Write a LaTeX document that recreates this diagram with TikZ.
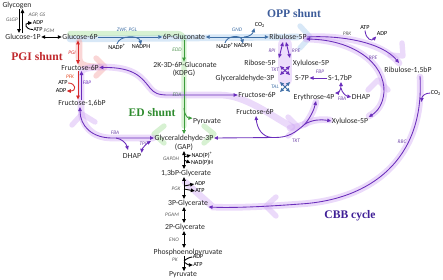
\documentclass[tikz,border=0pt]{standalone}
\usepackage{fontspec}
\setmainfont{Carlito}
\newfontfamily\serifb{Liberation Serif}
\usetikzlibrary{arrows.meta}
\pgfdeclarelayer{bg}
\pgfsetlayers{bg,main}
\definecolor{dpurp}{HTML}{6A2DBB}
\definecolor{lpurp}{HTML}{D2ACF4}
\definecolor{dblue}{HTML}{3F6FA6}
\definecolor{lblue}{HTML}{A8CBEE}
\definecolor{dgreen}{HTML}{3C9B3C}
\definecolor{lgreen}{HTML}{A6E09C}
\definecolor{dred}{HTML}{D62A2A}
\definecolor{lred}{HTML}{F4A3A3}
\definecolor{enzgray}{HTML}{5A5A5A}
\definecolor{oppc}{HTML}{3D5C9A}
\definecolor{pgic}{HTML}{C0282D}
\definecolor{edc}{HTML}{2E8B2E}
\definecolor{cbbc}{HTML}{3F1F96}
\tikzset{
 >={Triangle[length=3pt,width=2.6pt]},
 met/.style={font=\fontsize{5.8}{6}\selectfont, inner sep=0.3pt, text=black!85},
 cof/.style={font=\fontsize{4.6}{5}\selectfont, inner sep=0.2pt},
 enz/.style={font=\fontsize{4}{4.5}\selectfont\itshape, inner sep=0.2pt, text=enzgray},
 shunt/.style={font=\fontsize{8.7}{9}\serifb\bfseries, inner sep=0pt},
 ln/.style={line width=0.65pt},
 band/.style={line width=5pt, opacity=0.45, line cap=round},
 chevr/.style={line width=4pt, opacity=0.45, line cap=round, line join=round},
}
\begin{document}
\begin{tikzpicture}[x=0.75pt,y=-0.75pt]
\useasboundingbox (0,0) rectangle (443,279);
\coordinate (col) at (184,0);
% ---------- metabolites
\node[met] (glycogen) at (17,5) {Glycogen};
\node[met] (g1p) at (23,37) {Glucose-1P};
\node[met] (g6p) at (80,37) {Glucose-6P};
\node[met] (f6p) at (80,67.5) {Fructose-6P};
\node[met] (fbp) at (82,103) {Fructose-1,6bP};
\node[met] (dhapa) at (132,156) {DHAP};
\node[met] (gap) at (184,138) {Glyceraldehyde-3P};
\node[met] (gapb) at (184,147) {(GAP)};
\node[met] (bpg) at (186,173) {1,3bP-Glycerate};
\node[met] (pga) at (188,203) {3P-Glycerate};
\node[met] (pgb) at (185,227) {2P-Glycerate};
\node[met] (pep) at (188,252) {Phosphoenolpyruvate};
\node[met] (pyrb) at (183,275) {Pyruvate};
\node[met] (gln) at (184,37) {6P-Gluconate};
\node[met] (kdpg) at (185,65) {2K-3D-6P-Gluconate};
\node[met] (kdpgb) at (184,73) {(KDPG)};
\node[met] (pyra) at (207,122) {Pyruvate};
\node[met] (ru5p) at (288,37) {Ribulose-5P};
\node[met] (r5p) at (260,63) {Ribose-5P};
\node[met] (xu5pa) at (311,63) {Xylulose-5P};
\node[met] (gapc) at (245,78) {Glyceraldehyde-3P};
\node[met] (s7p) at (302,78) {S-7P};
\node[met] (s17) at (340,78) {S-1,7bP};
\node[met] (f6pb) at (257,95) {Fructose-6P};
\node[met] (e4p) at (314,97) {Erythrose-4P};
\node[met] (dhapb) at (361,97) {DHAP};
\node[met] (f6pc) at (255,112) {Fructose-6P};
\node[met] (xu5pb) at (350,121) {Xylulose-5P};
\node[met] (rubp) at (408,70) {Ribulose-1,5bP};
% ---------- shunt labels
\node[shunt,text=pgic] (pgis) at (37,57) {PGI shunt};
\node[shunt,text=oppc] (opps) at (294,14) {OPP shunt};
\node[shunt,text=edc] (eds) at (152,113) {ED shunt};
\node[shunt,text=cbbc] (cbb) at (350,216) {CBB cycle};
% ---------- cofactors
\node[cof] (adpa) at (38,23) {ADP};
\node[cof] (atpa) at (38,29.5) {ATP};
\node[cof] (nadpa) at (117,47) {NADP\textsuperscript{+}};
\node[cof] (nadpha) at (141,47) {NADPH};
\node[cof] (co2a) at (260,25) {CO\textsubscript{2}};
\node[cof] (nadpb) at (225,46) {NADP\textsuperscript{+}};
\node[cof] (nadphb) at (243,46) {NADPH};
\node[cof] (atpb) at (63,83) {ATP};
\node[cof] (adpb) at (61,91) {ADP};
\node[cof] (nadp) at (202,155) {NAD(P)\textsuperscript{+}};
\node[cof] (nadph) at (202,163) {NAD(P)H};
\node[cof] (adpc) at (200,184) {ADP};
\node[cof] (atpc) at (200,191) {ATP};
\node[cof] (adpd) at (198,257) {ADP};
\node[cof] (atpd) at (198,265) {ATP};
\node[cof] (atpe) at (365,28) {ATP};
\node[cof] (adpe) at (382,34) {ADP};
\node[cof] (co2b) at (436,93) {CO\textsubscript{2}};
% ---------- enzyme labels
\node[enz] (e1) at (12,20) {GLGP};
\node[enz] (e2) at (37,15) {AGP, GS};
\node[enz] (e3) at (49,31) {PGM};
\node[enz,text=dblue] (e4) at (127,30) {ZWF, PGL};
\node[enz,text=dblue] (e5) at (237,30) {GND};
\node[enz,text=dred] (e6) at (72,53) {PGI};
\node[enz,text=dred!70!orange] (e7) at (70,77) {PFK};
\node[enz,text=dpurp] (e8) at (87,83) {FBP};
\node[enz,text=dpurp!70!gray] (e9) at (115,133) {FBA};
\node[enz,text=dpurp!70!gray] (e10) at (143,144) {TPI};
\node[enz,text=dgreen!70!gray] (e11) at (177,50) {EDD};
\node[enz,text=dgreen!70!gray] (e12) at (177,95) {EDA};
\node[enz] (e13) at (171,159) {GAPDH};
\node[enz] (e14) at (176,189) {PGK};
\node[enz] (e15) at (172,215) {PGAM};
\node[enz] (e16) at (174,240) {ENO};
\node[enz] (e17) at (175,260) {PK};
\node[enz,text=dpurp!70!gray] (e18) at (272,51) {RPI};
\node[enz,text=dpurp!70!gray] (e19) at (296,51) {RPE};
\node[enz,text=dpurp!70!gray] (e20) at (275,70) {TKT};
\node[enz,text=dblue] (e21) at (275,87) {TAL};
\node[enz,text=dpurp!70!gray] (e22) at (320,72) {FBP};
\node[enz,text=dpurp!70!gray] (e23) at (342,98.5) {FBA};
\node[enz] (e24) at (347,34) {PRK};
\node[enz,text=dpurp!70!gray] (e25) at (373,58) {RPE};
\node[enz,text=dpurp!70!gray] (e26) at (296,141) {TKT};
\node[enz,text=dpurp!70!gray] (e27) at (402,142) {RBC};
% ---------- black connectors
\draw[ln,->] (19,9) -- (19,33);
\draw[ln,->] (22.5,33) -- (22.5,9);
\draw[ln,->] (atpa.west) .. controls (25,29.5) and (24,23) .. (adpa.west);
\draw[ln,<->] (g1p.east) -- (g6p.west);
\draw[ln,<->] (gapb.south) -- (col |- bpg.north);
\draw[ln,->] (184,157) -- (nadp.west);
\draw[ln,->] (184,160) -- (nadph.west);
\draw[ln,<->] (col |- bpg.south) -- (col |- pga.north);
\draw[ln,->] (184,186) -- (adpc.west);
\draw[ln,->] (184,189) -- (atpc.west);
\draw[ln,<->] (col |- pga.south) -- (col |- pgb.north);
\draw[ln,<->] (col |- pgb.south) -- (col |- pep.north);
\draw[ln,->] (col |- pep.south) -- (col |- pyrb.north);
\draw[ln] (adpd.west) .. controls (190,257) and (186,259) .. (184,261);
\draw[ln,->] (184,262) .. controls (186,264) and (189,265) .. (atpd.west);
% ---------- blue connectors
\draw[ln,dblue,->] (g6p.east) -- (gln.west);
\draw[ln,dblue,->] (nadpa.north) .. controls (119,35) and (139,35) .. (nadpha.north);
\draw[ln,dblue,<->] (gln.east) -- (ru5p.west);
\draw[ln,dblue,->] (244,37) .. controls (250,37) and (253,33) .. (co2a.south west);
\draw[ln,dblue,->] (nadpb.north) .. controls (227,35) and (241,35) .. (nadphb.north);
\draw[ln,dblue,<->] (280,82) -- (290,92);
\draw[ln,dblue,<->] (290,82) -- (280,92);
% ---------- red connectors
\draw[ln,dred,<->] ([xshift=-1.5pt]g6p.south) -- ([xshift=-1.5pt]f6p.north);
\draw[ln,dred,->] (78,71) -- (78,99.5);
\draw[ln,dred,->] (atpb.east) .. controls (76,83) and (77,91) .. (adpb.east);
% ---------- green connectors
\draw[ln,dgreen,->] (gln.south) -- (col |- kdpg.north);
\draw[ln,dgreen,->] (kdpgb.south) -- (gap.north);
\draw[ln,dgreen,->] (184,108) .. controls (184,115) and (188,118) .. (pyra.north west);
% ---------- purple connectors
\draw[ln,dpurp,->] (81.5,99.5) -- (81.5,71);
\draw[ln,dpurp,<->] (gap.west) -- (112,138) .. controls (92,138) and (80,126) .. (80,107);
\draw[ln,dpurp,->] (116,138) .. controls (122,139) and (126,143) .. (128,150);
\draw[ln,dpurp,<->] (dhapa.north east) .. controls (142,149) and (146,144) .. (151,141);
\draw[ln,dpurp,<->] (f6p.east) .. controls (135,67) and (142,78) .. (150,88) .. controls (154,93) and (158,95) .. (168,95) -- (f6pb.west);
\draw[ln,dpurp,<->] (283,42) -- (279,58);
\draw[ln,dpurp,<->] (286,42) -- (290,58);
\draw[ln,dpurp,<->] (280,66) -- (290,75);
\draw[ln,dpurp,<->] (290,66) -- (280,75);
\draw[ln,dpurp,->] (s17.west) -- (s7p.east);
\draw[ln,dpurp,<->] (e4p.north east) .. controls (338,93) and (341,90) .. (341,82);
\draw[ln,dpurp,->] (341,88) .. controls (342,93) and (346,96) .. (dhapb.west);
\draw[ln,dpurp,->] (305,124) .. controls (295,133) and (288,137.5) .. (275,137.5) -- (gap.east);
\draw[ln,dpurp,->] (272,137.5) .. controls (262,137) and (257,128) .. (256,116);
\draw[ln,dpurp,->] (305,124) .. controls (310,118) and (314,110) .. (316,101);
\draw[ln,dpurp,->] (305,124) .. controls (312,120) and (320,119) .. (xu5pb.west);
\draw[ln,dpurp,->] (ru5p.east) .. controls (340,35) and (382,42) .. (399,63);
\draw[ln,dpurp,->] (atpe.south) .. controls (366,40) and (372,41) .. (adpe.south west);
\draw[ln,dpurp,<->] (306,39) .. controls (352,40) and (385,62) .. (384,92) .. controls (383,104) and (378,111) .. (xu5pb.north east);
\draw[ln,dpurp,->] (420,76) .. controls (425,160) and (370,200) .. (300,204) .. controls (260,207) and (230,208) .. (pga.south east);
\draw[ln,dpurp,->] (co2b.west) .. controls (425,93) and (422,96) .. (421.5,102);
% ---------- background bands
\begin{pgfonlayer}{bg}
\draw[band,lblue] (70,39) -- (190,38) -- (298,37);
\draw[chevr,lblue] (300,26) -- (310,37) -- (300,48);
\draw[band,lgreen,line width=4pt,rounded corners=5pt] (70,33.5) -- (184,33.5) -- (184,126);
\draw[chevr,lgreen] (164,126) -- (154,134) -- (164,143);
\draw[chevr,lgreen] (204,126) -- (214,134) -- (204,143);
\draw[band,lred] (79,42) -- (79,57) .. controls (79,65) and (84,67) .. (100,67);
\draw[chevr,lred] (96,58) -- (105,67) -- (96,76);
\draw[band,lpurp] (420,77) .. controls (425,160) and (370,200) .. (300,204) .. controls (260,207) and (230,208) .. (213,207) -- (185,182);
\draw[band,lpurp] (153,138) -- (112,138) .. controls (92,138) and (81,126) .. (81,108) -- (81,73) .. controls (81,69) and (88,67) .. (103,67) .. controls (135,67) and (142,78) .. (150,88) .. controls (154,93) and (158,95) .. (168,95) -- (220,95) .. controls (245,95) and (270,115) .. (292,127);
\draw[band,lpurp] (290,128) .. controls (297,127) and (300,126) .. (305,124) .. controls (312,120) and (320,119) .. (330,120);
\draw[band,lpurp] (305,124) .. controls (310,118) and (314,110) .. (316,102);
\draw[band,lpurp] (306,39) .. controls (352,40) and (385,62) .. (384,92) .. controls (383,104) and (378,111) .. (369,116);
\draw[band,lpurp] (306,37) .. controls (340,35) and (382,42) .. (399,63);
\draw[lpurp,line width=11pt,opacity=0.4,line cap=round] (285,45) -- (285,79);
\draw[chevr,lpurp] (72,125) -- (82,114) -- (95,122);
\draw[chevr,lpurp] (288,117) -- (298,127) -- (288,136);
\draw[chevr,lpurp] (368,90) -- (378,80) -- (388,90);
\draw[chevr,lpurp] (390,55) -- (403,56) -- (402,43);
\draw[chevr,lpurp] (276,197) -- (266,206) -- (276,216);
\end{pgfonlayer}
\end{tikzpicture}
\end{document}
